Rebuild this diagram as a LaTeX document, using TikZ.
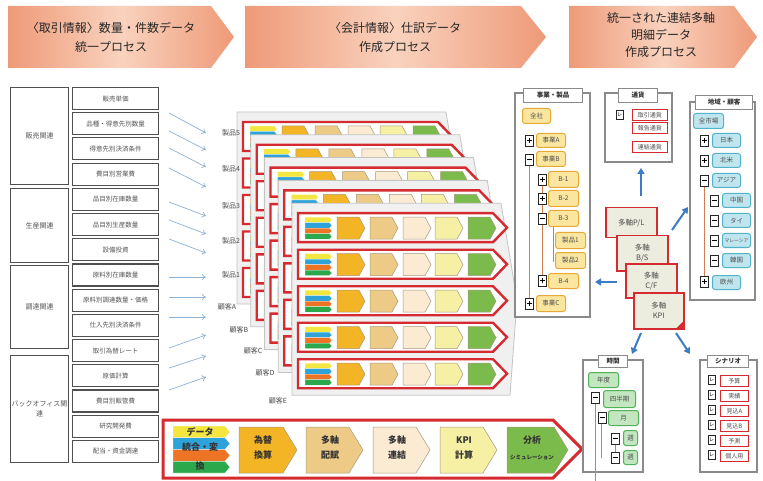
\documentclass[tikz,border=0pt]{standalone}
\usepackage{fontspec}
\setmainfont{Noto Sans CJK JP}
\usetikzlibrary{arrows.meta}
\definecolor{hdr}{HTML}{EE9A78}
\definecolor{hdrl}{HTML}{F9D2BE}
\definecolor{redb}{HTML}{D42A30}
\definecolor{c1}{HTML}{F3B425}
\definecolor{c2}{HTML}{EDCB87}
\definecolor{c3}{HTML}{FAEBD2}
\definecolor{c4}{HTML}{F6F0A4}
\definecolor{c5}{HTML}{7BBB4C}
\definecolor{sy}{HTML}{F3E63E}
\definecolor{sb}{HTML}{2EA3DA}
\definecolor{so}{HTML}{EE7425}
\definecolor{sg}{HTML}{2CA84C}
\definecolor{chevb}{HTML}{A89880}
\definecolor{pnl}{HTML}{F0F0F0}
\definecolor{pnlb}{HTML}{C4C4C4}
\definecolor{tblb}{HTML}{505050}
\definecolor{tabtx}{HTML}{555555}
\definecolor{larc}{HTML}{8EB2D6}
\definecolor{barc}{HTML}{3C7CC4}
\definecolor{obx}{HTML}{8A8A8A}
\definecolor{yf}{HTML}{FBE6A0}
\definecolor{yb}{HTML}{E8A838}
\definecolor{cf}{HTML}{BFE5EE}
\definecolor{cb}{HTML}{52B2CA}
\definecolor{gf}{HTML}{C2E6C0}
\definecolor{gb}{HTML}{52B056}
\definecolor{brl}{HTML}{CF8050}
\definecolor{cardf}{HTML}{ECECDF}
\tikzset{
 hdrshape/.style={left color=hdr, right color=hdr, middle color=hdrl},
 item/.style={draw=tblb, line width=1.1, fill=white, minimum width=86, minimum height=22, anchor=north west, inner sep=0, font=\fontsize{6.5}{7}\selectfont, text=tabtx},
 cat/.style={draw=tblb, line width=1.1, fill=white, minimum width=58, anchor=north west, inner sep=0, font=\fontsize{7}{10}\selectfont, text=tabtx, align=center},
 larr/.style={-{To[length=4pt,width=6pt]}, draw=larc, line width=0.7},
 barr/.style={-{Triangle[length=6pt,width=7pt]}, draw=barc, line width=2},
 outbox/.style={draw=obx, line width=1.3, fill=white},
 ttl/.style={draw=obx, line width=1, fill=white, font=\bfseries\fontsize{6.5}{7}\selectfont, inner sep=0, anchor=north west, text=black!80},
 yitem/.style={draw=yb, fill=yf, line width=1, rounded corners=2.5, anchor=north west, inner sep=0, font=\fontsize{6.5}{7}\selectfont, text=black!70},
 citem/.style={draw=cb, fill=cf, line width=1, rounded corners=2.5, anchor=north west, inner sep=0, font=\fontsize{6.5}{7}\selectfont, text=black!70},
 gitem/.style={draw=gb, fill=gf, line width=1, rounded corners=2.5, anchor=north west, inner sep=0, font=\fontsize{6.5}{7}\selectfont, text=black!70},
 ritem/.style={draw=redb, fill=white, line width=0.9, anchor=north west, inner sep=0, font=\fontsize{6}{7}\selectfont, text=black!70},
 sq/.style={draw=black!85, line width=0.8, fill=white},
 card/.style={draw=redb, fill=cardf, line width=1.5, anchor=north west, inner sep=0, align=center, font=\fontsize{7.5}{10}\selectfont, text=black!70},
 ptxt/.style={font=\bfseries\fontsize{9}{15}\selectfont, align=center, text=black!80},
 lbl/.style={font=\fontsize{7}{8}\selectfont, text=black!70, inner sep=0},
 brline/.style={draw=brl, line width=0.9},
 htxt/.style={font=\fontsize{12}{19}\selectfont, align=center, text=black!85},
}
\newcommand\chevr[6]{\filldraw[fill=#6, draw=chevb, line width=0.5] (#1,#2) -- ({#1+#3-#5},#2) -- ({#1+#3},{#2+#4/2}) -- ({#1+#3-#5},{#2+#4}) -- (#1,{#2+#4}) -- cycle;}
\newcommand\stk[5]{\foreach \c [count=\i from 0] in {sy,sb,so,sg}{\filldraw[fill=\c, draw=white, line width=0.3] (#1,{#2+\i*#4/4}) -- ({#1+#3-#5},{#2+\i*#4/4}) -- ({#1+#3},{#2+(\i+0.5)*#4/4}) -- ({#1+#3-#5},{#2+(\i+1)*#4/4}) -- (#1,{#2+(\i+1)*#4/4}) -- cycle;}}
\newcommand\band[2]{%
 \filldraw[fill=white, draw=redb, line width=2.4] (#1,#2) -- ({#1+195},#2) -- ({#1+209},{#2+14.5}) -- ({#1+195},{#2+29}) -- (#1,{#2+29}) -- cycle;
 \stk{#1+7}{#2+4}{27}{22}{2.5}
 \chevr{#1+39}{#2+4}{28}{22}{6}{c1}
 \chevr{#1+72}{#2+4}{28}{22}{6}{c2}
 \chevr{#1+105}{#2+4}{28}{22}{6}{c3}
 \chevr{#1+137}{#2+4}{28}{22}{6}{c4}
 \chevr{#1+170}{#2+4}{28}{22}{6}{c5}}
\newcommand\panel[2]{%
 \filldraw[fill=pnl, draw=pnlb, line width=0.8] (#1,#2) -- ({#1+209},#2) -- ({#1+225},{#2+97}) -- ({#1+218},{#2+192}) -- (#1,{#2+192}) -- cycle;
 \foreach \j in {0,...,4}{\band{#1+6}{#2+10+\j*36.5}}}
\newcommand\ti[7]{\node[#1, minimum width=#5, minimum height=#6] (#2) at (#3,#4) {#7};}
\newcommand\tsp[2]{\draw[sq] (#1,#2) rectangle ++(8,11); \draw[line width=0.8] ({#1+1.5},{#2+5.5}) -- ++(5,0) ({#1+4},{#2+3}) -- ++(0,5);}
\newcommand\tsm[2]{\draw[sq] (#1,#2) rectangle ++(8,11); \draw[line width=0.8] ({#1+1.5},{#2+5.5}) -- ++(5,0);}
\newcommand\tck[2]{\draw[sq] (#1,#2) rectangle ++(7,9); \node[font=\fontsize{5}{5}\selectfont, inner sep=0] at ({#1+3.5},{#2+4.5}) {レ};}
\begin{document}
\begin{tikzpicture}[x=1pt,y=-1pt]
\useasboundingbox (0,0) rectangle (763,481);
\fill[white] (0,0) rectangle (763,481);
% header
\shade[hdrshape] (8,6) -- (211,6) -- (234,37) -- (211,68) -- (8,68) -- cycle;
\shade[hdrshape] (245,6) -- (521,6) -- (546,37) -- (521,68) -- (245,68) -- cycle;
\shade[hdrshape] (569,6) -- (734,6) -- (757,37) -- (734,68) -- (569,68) -- cycle;
\node[htxt] (h1) at (111,37) {〈取引情報〉数量・件数データ\\統一プロセス};
\node[htxt] (h2) at (395,37) {〈会計情報〉仕訳データ\\作成プロセス};
\node[htxt, font=\fontsize{12}{17}\selectfont] (h3) at (661,35) {統一された連結多軸\\明細データ\\作成プロセス};
% left table
\node[cat, minimum height=97] (k1) at (10,87) {販売関連};
\node[cat, minimum height=74] (k2) at (10,188) {生産関連};
\node[cat, minimum height=83] (k3) at (10,265) {調達関連};
\node[cat, minimum height=107] (k4) at (10,355) {バックオフィス関\\連};
\foreach \t [count=\n from 0] in {販売単価,品種・得意先別数量,得意先別決済条件,費目別営業費,品目別在庫数量,品目別生産数量,設備投資,原料別在庫数量,原料別調達数量・価格,仕入先別決済条件,取引為替レート,原価計算,費目別販管費,研究開発費,配当・資金調達}
 {\node[item] (it\n) at (72,{87+\n*25.2}) {\t};}
% arrows into stack
\foreach \ya/\yb [count=\n] in {113/133,131/150,148/167,168/187,202/216,220/234,239/253,277/277,297/297,317/317,348/335,368/356,390/377}
 {\coordinate (as\n) at (169,\ya); \coordinate (ae\n) at (206,\yb); \draw[larr] (as\n) -- (ae\n);}
% stacked panels
\foreach \k in {0,...,4}{\panel{237+\k*13.75}{112+\k*22.8}}
\node[lbl] (s5) at (231,133) {製品5};
\node[lbl] (s4) at (231,169) {製品4};
\node[lbl] (s3) at (231,206) {製品3};
\node[lbl] (s2) at (231,241) {製品2};
\node[lbl] (s1) at (231,275) {製品1};
\node[lbl] (kA) at (227,307) {顧客A};
\node[lbl] (kB) at (239,330) {顧客B};
\node[lbl] (kC) at (253,351) {顧客C};
\node[lbl] (kD) at (265,373) {顧客D};
\node[lbl] (kE) at (278,401) {顧客E};
% process bar
\draw[redb, line width=3, fill=white] (163,420) -- (553,420) -- (582,449) -- (553,478) -- (163,478) -- cycle;
\stk{173}{426}{57}{47}{5}
\node[ptxt] (pd1) at (200,432) {データ};
\node[ptxt] (pd2) at (200,447) {統合・変};
\node[ptxt] (pd3) at (200,466) {換};
\chevr{239}{427}{58}{46}{14}{c1}
\chevr{306}{427}{57}{46}{14}{c2}
\chevr{373}{427}{57}{46}{14}{c3}
\chevr{440}{427}{57}{46}{14}{c4}
\chevr{507}{427}{61}{46}{14}{c5}
\node[ptxt] (pc1) at (263,448) {為替\\換算};
\node[ptxt] (pc2) at (330,448) {多軸\\配賦};
\node[ptxt] (pc3) at (397,448) {多軸\\連結};
\node[ptxt] (pc4) at (464,448) {KPI\\計算};
\node[ptxt] (pc5) at (532,440) {分析};
\node[font=\bfseries\fontsize{5.5}{6}\selectfont, text=black!80, inner sep=0] (pc6) at (532,458) {シミュレーション};
% 事業・製品
\draw[outbox] (515,93) rectangle (590,317);
\node[ttl, minimum width=59, minimum height=14] (t1) at (523,88) {事業・製品};
\draw[brline] (529,165) -- (529,298);
\draw[brline] (542,185) -- (542,275);
\draw[brline] (553.5,226) -- (553.5,262);
\ti{yitem}{zs}{522}{108}{28}{15}{全社}
\tsp{525}{135} \ti{yitem}{ja}{536}{133}{29}{14}{事業A}
\tsm{525}{154} \ti{yitem}{jb}{536}{151}{29}{15}{事業B}
\tsp{538}{174} \ti{yitem}{b1}{548}{171}{30}{16}{B-1}
\tsp{538}{193} \ti{yitem}{b2}{548}{190}{30}{16}{B-2}
\tsm{538}{213} \ti{yitem}{b3}{548}{210}{30}{16}{B-3}
\ti{yitem}{p1}{555}{232}{30}{16}{製品1}
\ti{yitem}{p2}{555}{252}{30}{16}{製品2}
\tsp{538}{275} \ti{yitem}{b4}{548}{273}{30}{15}{B-4}
\tsp{525}{298} \ti{yitem}{jc}{536}{295}{29}{16}{事業C}
% 通貨
\draw[outbox] (605,93) rectangle (672,162);
\node[ttl, minimum width=39, minimum height=14] (t2) at (618,88) {通貨};
\tck{616}{110}
\ti{ritem}{cu1}{632}{109}{35}{11}{取引通貨}
\ti{ritem}{cu2}{632}{122}{35}{11}{報告通貨}
\ti{ritem}{cu3}{632}{141}{35}{11}{連結通貨}
% 地域・顧客
\draw[outbox] (690,102) rectangle (755,300);
\node[ttl, minimum width=57, minimum height=14] (t3) at (695,95) {地域・顧客};
\draw[brline] (704,186) -- (704,276);
\ti{citem}{zm}{693}{113}{30}{15}{全市場}
\tsp{700}{135} \ti{citem}{rj}{712}{133}{28}{14}{日本}
\tsp{700}{155} \ti{citem}{rn}{712}{153}{28}{14}{北米}
\tsm{700}{175} \ti{citem}{ra}{712}{173}{28}{14}{アジア}
\tsm{710}{195} \ti{citem}{rc}{722}{193}{28}{14}{中国}
\tsm{710}{215} \ti{citem}{rt}{722}{213}{28}{14}{タイ}
\tsm{710}{235} \ti{citem}{rm}{722}{233}{28}{14}{\fontsize{4.8}{5}\selectfont マレーシア}
\tsm{710}{255} \ti{citem}{rk}{722}{253}{28}{14}{韓国}
\tsp{700}{276} \ti{citem}{re}{712}{275}{28}{14}{欧州}
% cards
\node[card, minimum width=51, minimum height=30] (cpl) at (605,207) {多軸P/L};
\node[card, minimum width=51, minimum height=35] (cbs) at (616,235) {多軸\\B/S};
\node[card, minimum width=51, minimum height=34] (ccf) at (625,263) {多軸\\C/F};
\node[card, minimum width=50, minimum height=36] (ckp) at (633,292) {多軸\\KPI};
\fill[redb] (683.5,321) -- (683.5,328.5) -- (676,328.5) -- cycle;
% blue arrows
\coordinate (u1) at (641,196); \coordinate (u2) at (641,168);
\coordinate (r1) at (672,230); \coordinate (r2) at (688,207);
\coordinate (l1) at (617,282); \coordinate (l2) at (595,282);
\coordinate (d1) at (641,333); \coordinate (d2) at (632,354);
\coordinate (e1) at (676,333); \coordinate (e2) at (690,354);
\draw[barr] (u1) -- (u2);
\draw[barr] (r1) -- (r2);
\draw[barr] (l1) -- (l2);
\draw[barr] (d1) -- (d2);
\draw[barr] (e1) -- (e2);
% 時間
\draw[outbox] (583,360) rectangle (643,472);
\node[ttl, minimum width=29, minimum height=12] (t4) at (598,355) {時間};
\draw[brline] (595,403) -- (595,481);
\draw[brline] (601.5,423) -- (601.5,458);
\draw[brline] (615,444) -- (615,452);
\ti{gitem}{nd}{588}{372}{30}{15}{年度}
\tsm{591}{392} \ti{gitem}{qt}{603}{390}{32}{17}{四半期}
\tsm{598}{412} \ti{gitem}{mo}{608}{410}{30}{15}{月}
\tsm{611}{433} \ti{gitem}{w1}{623}{430}{14}{15}{週}
\tsm{611}{452} \ti{gitem}{w2}{623}{450}{14}{14}{週}
% シナリオ
\draw[outbox] (700,360) rectangle (757,472);
\node[ttl, minimum width=41, minimum height=12] (t5) at (707,355) {シナリオ};
\foreach \t/\yy [count=\n] in {予算/375,実績/390,見込A/405,見込B/420,予測/435,個人用/450}
 {\tck{708}{\yy} \ti{ritem}{sc\n}{720}{\yy}{28}{11}{\t}}
\end{tikzpicture}
\end{document}
